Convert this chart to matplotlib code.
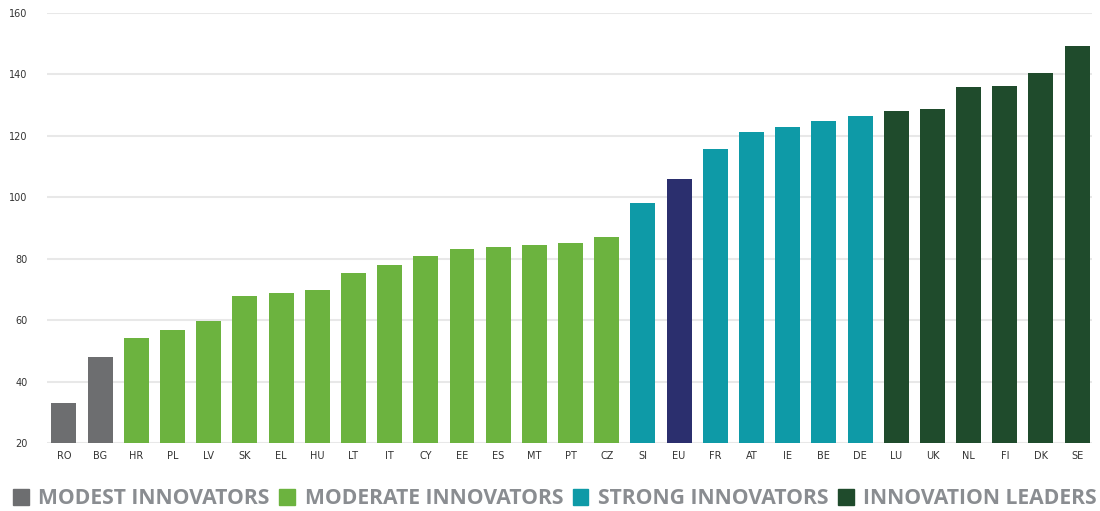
"""Summary innovation index by country, grouped by performance class."""

import matplotlib
matplotlib.use("Agg")
import matplotlib.pyplot as plt
from matplotlib.patches import Patch

countries = ["RO", "BG", "HR", "PL", "LV", "SK", "EL", "HU", "LT", "IT",
             "CY", "EE", "ES", "MT", "PT", "CZ", "SI", "EU", "FR", "AT",
             "IE", "BE", "DE", "LU", "UK", "NL", "FI", "DK", "SE"]
scores = [33.0, 48.0, 54.3, 56.7, 59.7, 68.0, 68.8, 69.7, 75.2, 77.9,
          80.9, 83.2, 83.9, 84.6, 85.0, 87.2, 98.0, 106.0, 115.7, 121.3,
          122.8, 124.7, 126.6, 128.2, 128.8, 135.8, 136.3, 140.5, 149.2]
groups = ["modest"] * 2 + ["moderate"] * 14 + ["strong"] + ["eu"] + \
    ["strong"] * 5 + ["leader"] * 6

group_colors = {
    "modest": "#6d6e70",
    "moderate": "#6cb33f",
    "strong": "#0e9aa7",
    "eu": "#2b2f6e",
    "leader": "#1f4b2c",
}
legend_groups = [("modest", "MODEST INNOVATORS"),
                 ("moderate", "MODERATE INNOVATORS"),
                 ("strong", "STRONG INNOVATORS"),
                 ("leader", "INNOVATION LEADERS")]
y_ticks = [20, 40, 60, 80, 100, 120, 140, 160]

fig = plt.figure(figsize=(11, 5.11), dpi=100)
ax = fig.add_axes([0.0427, 0.133, 0.95, 0.8416])

colors = [group_colors[g] for g in groups]
ax.bar(range(len(countries)), [s - 20 for s in scores], bottom=20,
       width=0.69, color=colors, zorder=2)

ax.set_ylim(20, 160)
ax.set_xlim(-0.47, len(countries) - 0.59)
ax.set_yticks(y_ticks)
ax.set_xticks(range(len(countries)))
ax.set_xticklabels(countries)
ax.tick_params(axis="both", length=0, labelsize=7, colors="#333333")
ax.tick_params(axis="x", pad=6)
ax.tick_params(axis="y", pad=14)
ax.grid(axis="y", color="#e8e8e8", lw=1.5, zorder=0)
for side in ax.spines.values():
    side.set_visible(False)

handles = [Patch(color=group_colors[k]) for k, _ in legend_groups]
labels = [lab for _, lab in legend_groups]
fig.legend(handles, labels, loc="lower center", ncol=4, frameon=False,
           bbox_to_anchor=(0.5045, -0.034), handlelength=0.75, handleheight=0.75,
           handletextpad=0.45, columnspacing=0.45,
           prop={"family": "Open Sans", "weight": "bold", "size": 15.2},
           labelcolor="#8a8d91")

fig.savefig("out.png", dpi=100, facecolor="white")
